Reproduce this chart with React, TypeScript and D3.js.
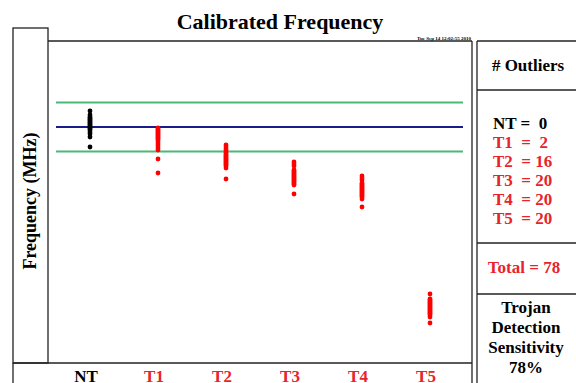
import React from "react";
import * as d3 from "d3";

// Trigger categories (NT = no trojan, T1..T5 = trojan-infected)
const categories = ["NT", "T1", "T2", "T3", "T4", "T5"];

// Calibrated frequency readings (MHz), 20 chips per category
const ntValues = [101.6, 101.2, 101.0, 100.9, 100.8, 100.7, 100.6, 100.5, 100.4, 100.3, 100.2, 100.1, 100.0, 99.9, 99.8, 99.7, 99.5, 99.3, 99.0, 98.0];
const t1Values = [99.9, 99.8, 99.7, 99.6, 99.5, 99.4, 99.3, 99.2, 99.1, 99.0, 98.9, 98.8, 98.7, 98.5, 98.3, 98.1, 97.9, 97.7, 96.8, 95.4];
const t2Values = [98.2, 98.0, 97.8, 97.65, 97.45, 97.3, 97.2, 97.1, 97.0, 96.9, 96.8, 96.7, 96.6, 96.5, 96.4, 96.3, 96.2, 96.1, 95.9, 94.8];
const t3Values = [96.5, 96.3, 96.1, 95.7, 95.6, 95.5, 95.4, 95.3, 95.2, 95.1, 95.0, 94.9, 94.8, 94.7, 94.6, 94.5, 94.4, 94.3, 94.2, 93.3];
const t4Values = [95.1, 94.9, 94.7, 94.4, 94.3, 94.2, 94.1, 94.0, 93.9, 93.8, 93.7, 93.6, 93.5, 93.4, 93.3, 93.2, 93.1, 93.0, 92.8, 92.0];
const t5Values = [83.3, 82.8, 82.7, 82.6, 82.5, 82.4, 82.3, 82.2, 82.1, 82.0, 81.9, 81.8, 81.7, 81.6, 81.5, 81.4, 81.3, 81.2, 81.0, 80.4];
const seriesValues = [ntValues, t1Values, t2Values, t3Values, t4Values, t5Values];

// Reference level and acceptance band (MHz)
const nominal = 100.0;
const upperLimit = 102.45;
const lowerLimit = 97.55;
const yDomain = [76.4, 108.6];

const timestamp = "Tue Sep 14 12:02:55 2010";

const SERIF = "'Liberation Serif', 'Times New Roman', serif";
const RED = "#e8232b";
const LINE = "#222";

export default function App() {
  const x = d3.scaleBand<string>().domain(categories).range([56, 464]);
  const y = d3.scaleLinear().domain(yDomain).range([363, 41]);
  const cx = (c: string) => (x(c) as number) + x.bandwidth() / 2;

  const outliers = seriesValues.map(
    (vals) => vals.filter((v) => v > upperLimit || v < lowerLimit).length
  );
  const trojanCounts = outliers.slice(1);
  const total = d3.sum(trojanCounts);
  const trojanChips = d3.sum(seriesValues.slice(1), (s) => s.length);
  const sensitivity = Math.round((total / trojanChips) * 100);

  const pad = (n: number) => (n < 10 ? " " + n : String(n));
  const listLines = categories.map((c, i) =>
    i === 0 ? `${c} = ${pad(outliers[i])}` : `${c}  = ${pad(outliers[i])}`
  );

  return (
    <svg
      width={576}
      height={383}
      style={{ position: "absolute", left: 0, top: 0, background: "#fff" }}
      fontFamily={SERIF}
      fontWeight="bold"
    >
      {/* title */}
      <text x={280} y={29} textAnchor="middle" fontSize={22}>
        Calibrated Frequency
      </text>
      <text x={471} y={40} textAnchor="end" fontSize={5}>
        {timestamp}
      </text>

      {/* frame: y-label box, plot area, category row */}
      <g fill="none" stroke={LINE} strokeWidth={1.3}>
        <rect x={13} y={28} width={35} height={335} />
        <line x1={13} y1={363} x2={13} y2={383} />
        <line x1={48} y1={41} x2={472} y2={41} />
        <line x1={472} y1={41} x2={472} y2={383} />
        <line x1={13} y1={363} x2={472} y2={363} />
        {/* side panel */}
        <line x1={477} y1={41} x2={477} y2={383} />
        <line x1={477} y1={41} x2={576} y2={41} />
        <line x1={477} y1={90} x2={576} y2={90} />
        <line x1={477} y1={243} x2={576} y2={243} />
        <line x1={477} y1={294} x2={576} y2={294} />
      </g>

      {/* y-axis title */}
      <text
        transform="translate(36,201) rotate(-90)"
        textAnchor="middle"
        fontSize={18}
      >
        Frequency (MHz)
      </text>

      {/* reference lines */}
      <g strokeWidth={2}>
        <line x1={56} x2={463} y1={y(upperLimit)} y2={y(upperLimit)} stroke="#4cb877" />
        <line x1={56} x2={463} y1={y(lowerLimit)} y2={y(lowerLimit)} stroke="#4cb877" />
        <line x1={56} x2={463} y1={y(nominal)} y2={y(nominal)} stroke="#1b1b8c" />
      </g>

      {/* chip readings */}
      {seriesValues.map((vals, i) => (
        <g key={categories[i]} fill={i === 0 ? "#000" : "#ff0000"}>
          {vals.map((v, j) => (
            <circle key={j} cx={cx(categories[i])} cy={y(v)} r={2.4} />
          ))}
        </g>
      ))}

      {/* category labels */}
      {categories.map((c, i) => (
        <text
          key={c}
          x={cx(c) - 4}
          y={382}
          textAnchor="middle"
          fontSize={17}
          fill={i === 0 ? "#000" : RED}
        >
          {c}
        </text>
      ))}

      {/* side panel text */}
      <text x={528} y={71} textAnchor="middle" fontSize={17}>
        # Outliers
      </text>
      {listLines.map((line, i) => (
        <text
          key={i}
          x={493}
          y={129 + i * 19}
          fontSize={17}
          fill={i === 0 ? "#000" : RED}
          style={{ whiteSpace: "pre" }}
        >
          {line}
        </text>
      ))}
      <text x={524} y={273} textAnchor="middle" fontSize={17} fill={RED}>
        {`Total = ${total}`}
      </text>
      {["Trojan", "Detection", "Sensitivity", `${sensitivity}%`].map((t, i) => (
        <text key={t} x={526} y={313 + i * 20} textAnchor="middle" fontSize={17}>
          {t}
        </text>
      ))}
    </svg>
  );
}
